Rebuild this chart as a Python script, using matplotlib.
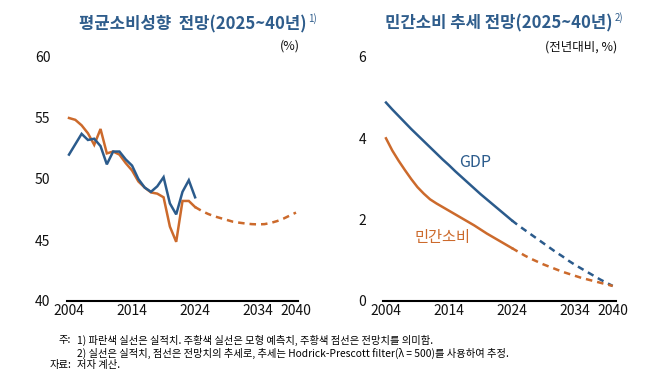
import numpy as np
import matplotlib
matplotlib.use('Agg')
import matplotlib.pyplot as plt

plt.rcParams['font.family'] = ['Noto Sans CJK KR', 'DejaVu Sans']

# left panel: average propensity to consume
years_act = list(range(2004, 2025))
apc_actual = [52.0, 52.85, 53.7, 53.2, 53.3, 52.7, 51.2, 52.25, 52.25, 51.6, 51.1,
              50.0, 49.3, 48.95, 49.4, 50.15, 48.0, 47.1, 48.95, 49.9, 48.5]
apc_model = [55.0, 54.85, 54.4, 53.75, 52.8, 54.1, 52.1, 52.25, 52.0, 51.3, 50.7,
             49.8, 49.3, 48.9, 48.8, 48.5, 46.1, 44.85, 48.2, 48.2, 47.7]
years_fc = list(range(2024, 2041))
apc_fc = [47.7, 47.4, 47.15, 46.95, 46.8, 46.65, 46.5, 46.42, 46.35, 46.3,
          46.28, 46.3, 46.4, 46.55, 46.75, 47.0, 47.25]

# right panel: trend growth
gdp_trend = [4.88, 4.71, 4.55, 4.39, 4.23, 4.08, 3.93, 3.78, 3.63, 3.48, 3.34,
             3.19, 3.05, 2.91, 2.77, 2.63, 2.50, 2.37, 2.24, 2.11, 1.88]
gdp_trend[-1] = 1.98
gdp_fc = [1.98, 1.86, 1.75, 1.64, 1.53, 1.42, 1.31, 1.20, 1.10, 0.99,
          0.89, 0.80, 0.71, 0.62, 0.53, 0.45, 0.37]
cons_trend = [4.0, 3.7, 3.45, 3.22, 3.0, 2.8, 2.64, 2.5, 2.4, 2.31, 2.22,
              2.13, 2.04, 1.95, 1.86, 1.76, 1.66, 1.57, 1.48, 1.39, 1.30]
cons_fc = [1.30, 1.21, 1.12, 1.04, 0.97, 0.90, 0.84, 0.78, 0.72, 0.67,
           0.62, 0.57, 0.53, 0.49, 0.45, 0.41, 0.37]

xticks = [2004, 2014, 2024, 2034, 2040]

blue = '#2b5b8c'
orange = '#cc6a2c'
title_col = '#2f5d8c'

W, H = 658, 376
fig = plt.figure(figsize=(W / 100, H / 100), dpi=100)

def fx(px):
    return px / W

def fy(py):
    return 1 - py / H

def style(ax, yticks):
    for s in ['top', 'right', 'left']:
        ax.spines[s].set_visible(False)
    ax.spines['bottom'].set_linewidth(1.5)
    ax.spines['bottom'].set_color('black')
    ax.set_xticks(xticks)
    ax.set_yticks(yticks)
    ax.tick_params(length=0, labelsize=10, colors='#111111')
    ax.tick_params(axis='y', pad=12)
    ax.tick_params(axis='x', pad=2)

lw = 1.8
dash = (2.6, 2.0)

# left
ax1 = fig.add_axes([fx(67), fy(301), fx(298) - fx(67), fy(57) - fy(301)])
ax1.plot(years_act, apc_model, color=orange, lw=lw, solid_joinstyle='miter')
ax1.plot(years_act, apc_actual, color=blue, lw=lw, solid_joinstyle='miter')
ax1.plot(years_fc, apc_fc, color=orange, lw=lw, dashes=dash)
ax1.set_xlim(2004 - 2 / 6.3, 2040 + 2 / 6.3)
ax1.set_ylim(40, 60)
style(ax1, [40, 45, 50, 55, 60])

# right
ax2 = fig.add_axes([fx(383), fy(301), fx(616) - fx(383), fy(57) - fy(301)])
ax2.plot(years_act, gdp_trend, color=blue, lw=lw)
ax2.plot(years_act, cons_trend, color=orange, lw=lw)
ax2.plot(years_fc, gdp_fc, color=blue, lw=lw, dashes=dash)
ax2.plot(years_fc, cons_fc, color=orange, lw=lw, dashes=dash)
ax2.set_xlim(2004 - 3 / 6.3, 2040 + 3.3 / 6.3)
ax2.set_ylim(0, 6)
style(ax2, [0, 2, 4, 6])
ax2.text(2018.2, 3.4, 'GDP', color=blue, fontsize=11.5, ha='center', va='center')
ax2.text(2013, 1.55, '민간소비', color=orange, fontsize=11, ha='center', va='center')

# titles with superscripts placed right after them
fig.canvas.draw()
rend = fig.canvas.get_renderer()

def title(x, y, s, sup):
    t = fig.text(fx(x), fy(y), s, color=title_col, fontsize=12,
                 fontweight='bold', ha='left', va='center')
    bb = t.get_window_extent(renderer=rend)
    fig.text((bb.x1 + 2) / W, fy(y - 5), sup, color=title_col,
             fontsize=7, ha='left', va='center')

title(79, 24, '평균소비성향  전망(2025~40년)', '1)')
title(385, 23, '민간소비 추세 전망(2025~40년)', '2)')
fig.text(fx(300), fy(46), '(%)', fontsize=9, ha='right', va='center', color='#111111')
fig.text(fx(617), fy(47), '(전년대비, %)', fontsize=9, ha='right', va='center', color='#111111')

# notes
note_fs = 7.4
fig.text(fx(71), fy(340), '주:', fontsize=note_fs, ha='right', va='center')
fig.text(fx(77), fy(340), '1) 파란색 실선은 실적치. 주황색 실선은 모형 예측치, 주황색 점선은 전망치를 의미함.',
         fontsize=note_fs, ha='left', va='center')
fig.text(fx(77), fy(353), '2) 실선은 실적치, 점선은 전망치의 추세로, 추세는 Hodrick-Prescott filter(λ = 500)를 사용하여 추정.',
         fontsize=note_fs, ha='left', va='center')
fig.text(fx(71), fy(365), '자료:', fontsize=note_fs, ha='right', va='center')
fig.text(fx(77), fy(365), '저자 계산.', fontsize=note_fs, ha='left', va='center')

fig.savefig('out.png', dpi=100)
